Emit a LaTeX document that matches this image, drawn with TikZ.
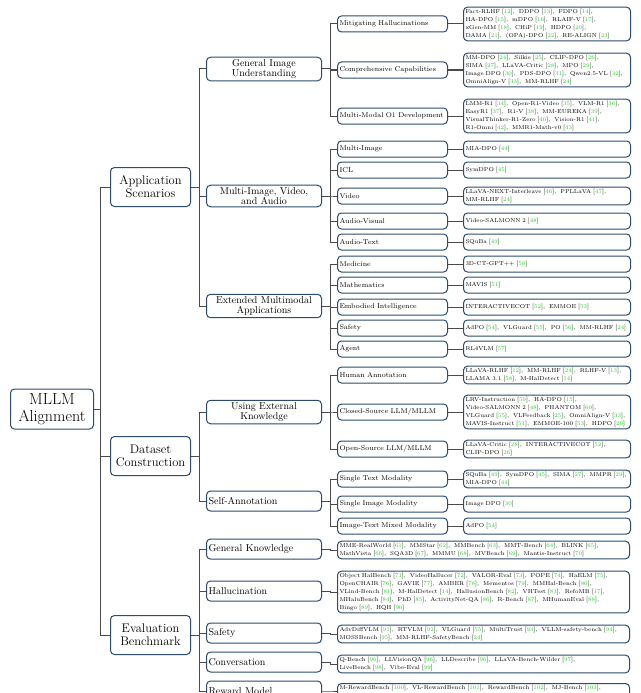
\documentclass[tikz,border=0pt]{standalone}
\usepackage{xcolor}
\definecolor{boxblue}{HTML}{2B4C6F}
\definecolor{linegray}{HTML}{4A4A4A}
\definecolor{citegreen}{HTML}{1FD01F}
\newcommand{\rf}[1]{[\textcolor{citegreen}{#1}]}
\newcommand{\sep}{,\hspace{4pt}}
\tikzset{
  box/.style={draw=boxblue, line width=1pt, rounded corners=4pt, inner sep=2pt},
  root/.style={box, anchor=west, minimum width=83pt, minimum height=40pt, align=center, font=\fontsize{16}{17}\selectfont},
  cat/.style={box, anchor=west, minimum width=80pt, minimum height=39pt, align=center, font=\fontsize{12.5}{13}\selectfont},
  sub/.style={box, anchor=west, text width=111pt, minimum height=20pt, align=center, font=\fontsize{10}{10.5}\selectfont},
  subl/.style={sub, align=left},
  item/.style={box, anchor=west, text width=106pt, minimum height=16pt, align=left, font=\fontsize{7}{8}\selectfont},
  leaf/.style={box, anchor=west, text width=163pt, minimum height=16pt, align=left, font=\fontsize{5.7}{8}\selectfont},
  wide/.style={leaf, text width=288pt},
  link/.style={draw=linegray, line width=1pt}
}
\begin{document}
\begin{tikzpicture}[x=1pt, y=-1pt]
\useasboundingbox (0,0) rectangle (640,693);
\clip (0,0) rectangle (640,693);

% root and first level
\node[root] (mllm) at (10,409) {MLLM\\Alignment};
\node[cat] (app) at (110,187) {Application\\Scenarios};
\node[cat] (data) at (110,456) {Dataset\\Construction};
\node[cat] (eval) at (110,635) {Evaluation\\Benchmark};

% second level
\node[sub] (gen) at (206,69) {General Image\\Understanding};
\node[sub] (multi) at (206,196) {Multi-Image, Video,\\and Audio};
\node[sub] (ext) at (206,306) {Extended Multimodal\\Applications};
\node[sub] (know) at (206,412) {Using External\\Knowledge};
\node[subl] (self) at (206,501) {Self-Annotation};
\node[subl] (gk) at (206,549) {General Knowledge};
\node[subl] (hal) at (206,591) {Hallucination};
\node[subl] (safe) at (206,633) {Safety};
\node[subl] (conv) at (206,662) {Conversation};
\node[subl] (rew) at (206,691) {Reward Model};

% third level
\node[item] (mit) at (337,24) {Mitigating Hallucinations};
\node[item] (comp) at (337,70) {Comprehensive Capabilities};
\node[item] (o1) at (337,116) {Multi-Modal O1 Development};
\node[item] (mimg) at (337,149) {Multi-Image};
\node[item] (icl) at (337,170) {ICL};
\node[item] (vid) at (337,196) {Video};
\node[item] (av) at (337,221) {Audio-Visual};
\node[item] (at) at (337,242) {Audio-Text};
\node[item] (med) at (337,264) {Medicine};
\node[item] (math) at (337,285) {Mathematics};
\node[item] (emb) at (337,307) {Embodied Intelligence};
\node[item] (saf) at (337,328) {Safety};
\node[item] (agt) at (337,349) {Agent};
\node[item] (hum) at (337,375) {Human Annotation};
\node[item] (cls) at (337,412) {Closed-Source LLM/MLLM};
\node[item] (opn) at (337,449) {Open-Source LLM/MLLM};
\node[item] (stm) at (337,479) {Single Text Modality};
\node[item] (sim) at (337,504) {Single Image Modality};
\node[item] (itm) at (337,526) {Image-Text Mixed Modality};

% leaves
\node[leaf] (l-mit) at (463,24) {Fact-RLHF \rf{12}\sep DDPO \rf{13}\sep FDPO \rf{14},\\ HA-DPO \rf{15}\sep mDPO \rf{16}\sep RLAIF-V \rf{17},\\ xGen-MM \rf{18}\sep CHiP \rf{19}\sep HDPO \rf{20},\\ DAMA \rf{21}\sep (OPA)-DPO \rf{22}\sep RE-ALIGN \rf{23}};
\node[leaf] (l-comp) at (463,70) {MM-DPO \rf{24}\sep Silkie \rf{25}\sep CLIP-DPO \rf{26},\\ SIMA \rf{27}\sep LLaVA-Critic \rf{28}\sep MPO \rf{29},\\ Image DPO \rf{30}\sep PDS-DPO \rf{31}\sep Qwen2.5-VL \rf{32},\\ OmniAlign-V \rf{33}\sep MM-RLHF \rf{24}};
\node[leaf] (l-o1) at (463,116) {LMM-R1 \rf{34}\sep Open-R1-Video \rf{35}\sep VLM-R1 \rf{36},\\ EasyR1 \rf{37}\sep R1-V \rf{38}\sep MM-EUREKA \rf{39},\\ VisualThinker-R1-Zero \rf{40}\sep Vision-R1 \rf{41},\\ R1-Omni \rf{42}\sep MMR1-Math-v0 \rf{43}};
\node[leaf] (l-mimg) at (463,149) {MIA-DPO \rf{44}};
\node[leaf] (l-icl) at (463,170) {SymDPO \rf{45}};
\node[leaf] (l-vid) at (463,196) {LLaVA-NEXT-Interleave \rf{46}\sep PPLLaVA \rf{47},\\ MM-RLHF \rf{24}};
\node[leaf] (l-av) at (463,221) {Video-SALMONN 2 \rf{48}};
\node[leaf] (l-at) at (463,242) {SQuBa \rf{49}};
\node[leaf] (l-med) at (463,264) {3D-CT-GPT++ \rf{50}};
\node[leaf] (l-math) at (463,285) {MAVIS \rf{51}};
\node[leaf] (l-emb) at (463,307) {INTERACTIVECOT \rf{52}\sep EMMOE \rf{53}};
\node[leaf] (l-saf) at (463,328) {AdPO \rf{54}\sep VLGuard \rf{55}\sep PO \rf{56}\sep MM-RLHF \rf{24}};
\node[leaf] (l-agt) at (463,349) {RL4VLM \rf{57}};
\node[leaf] (l-hum) at (463,375) {LLaVA-RLHF \rf{12}\sep MM-RLHF \rf{24}\sep RLHF-V \rf{13},\\ LLAMA 3.1 \rf{58}\sep M-HalDetect \rf{14}};
\node[leaf] (l-cls) at (463,412) {LRV-Instruction \rf{59}\sep HA-DPO \rf{15},\\ Video-SALMONN 2 \rf{48}\sep PHANTOM \rf{60},\\ VLGuard \rf{55}\sep VLFeedback \rf{25}\sep OmniAlign-V \rf{33},\\ MAVIS-Instruct \rf{51}\sep EMMOE-100 \rf{53}\sep HDPO \rf{20}};
\node[leaf] (l-opn) at (463,449) {LLaVA-Critic \rf{28}\sep INTERACTIVECOT \rf{52},\\ CLIP-DPO \rf{26}};
\node[leaf] (l-stm) at (463,479) {SQuBa \rf{49}\sep SymDPO \rf{45}\sep SIMA \rf{27}\sep MMPR \rf{29},\\ MIA-DPO \rf{44}};
\node[leaf] (l-sim) at (463,504) {Image DPO \rf{30}};
\node[leaf] (l-itm) at (463,526) {AdPO \rf{54}};

% benchmark leaves
\node[wide] (l-gk) at (337,550) {MME-RealWorld \rf{61}\sep MMStar \rf{62}\sep MMBench \rf{63}\sep MMT-Bench \rf{64}\sep BLINK \rf{65},\\ MathVista \rf{66}\sep SQA3D \rf{67}\sep MMMU \rf{68}\sep MVBench \rf{69}\sep Mantis-Instruct \rf{70}};
\node[wide] (l-hal) at (337,592) {Object HalBench \rf{71}\sep VideoHallucer \rf{72}\sep VALOR-Eval \rf{73}\sep POPE \rf{74}\sep HaELM \rf{75},\\ OpenCHAIR \rf{76}\sep GAVIE \rf{77}\sep AMBER \rf{78}\sep Mementos \rf{79}\sep MMHal-Bench \rf{80},\\ VLind-Bench \rf{81}\sep M-HalDetect \rf{14}\sep HallusionBench \rf{82}\sep VHTest \rf{83}\sep RefoMB \rf{17},\\ MHaluBench \rf{84}\sep PhD \rf{85}\sep ActivityNet-QA \rf{86}\sep R-Bench \rf{87}\sep MHumanEval \rf{88},\\ Bingo \rf{89}\sep HQH \rf{90}};
\node[wide] (l-safe) at (337,634) {AdvDiffVLM \rf{91}\sep RTVLM \rf{92}\sep VLGuard \rf{55}\sep MultiTrust \rf{93}\sep VLLM-safety-bench \rf{94},\\ MOSSBench \rf{95}\sep MM-RLHF-SafetyBench \rf{24}};
\node[wide] (l-conv) at (337,664) {Q-Bench \rf{96}\sep LLVisionQA \rf{96}\sep LLDescribe \rf{96}\sep LLaVA-Bench-Wilder \rf{97},\\ LiveBench \rf{98}\sep Vibe-Eval \rf{99}};
\node[wide, anchor=north west] (l-rew) at (337,683) {M-RewardBench \rf{100}\sep VL-RewardBench \rf{101}\sep RewardBench \rf{102}\sep MJ-Bench \rf{103},\\ \strut};

% connectors
\foreach \c in {app,data,eval} \draw[link] (mllm.east) -- ++(6,0) |- (\c.west);
\foreach \c in {gen,multi,ext} \draw[link] (app.east) -- ++(8,0) |- (\c.west);
\foreach \c in {know,self} \draw[link] (data.east) -- ++(8,0) |- (\c.west);
\foreach \c in {gk,hal,safe,conv,rew} \draw[link] (eval.east) -- ++(8,0) |- (\c.west);
\foreach \c in {mit,comp,o1} \draw[link] (gen.east) -- ++(8,0) |- (\c.west);
\foreach \c in {mimg,icl,vid,av,at} \draw[link] (multi.east) -- ++(8,0) |- (\c.west);
\foreach \c in {med,math,emb,saf,agt} \draw[link] (ext.east) -- ++(8,0) |- (\c.west);
\foreach \c in {hum,cls,opn} \draw[link] (know.east) -- ++(8,0) |- (\c.west);
\foreach \c in {stm,sim,itm} \draw[link] (self.east) -- ++(8,0) |- (\c.west);
\foreach \c in {mit,comp,o1,mimg,icl,vid,av,at,med,math,emb,saf,agt,hum,cls,opn,stm,sim,itm}
  \draw[link] (\c.east) -- (l-\c.west);
\foreach \c in {gk,hal,safe,conv} \draw[link] (\c.east) -- ++(8,0) |- (l-\c.west);
\draw[link] (rew.east) -- ++(8,0) |- ([yshift=-8pt]l-rew.north west);
\end{tikzpicture}
\end{document}
